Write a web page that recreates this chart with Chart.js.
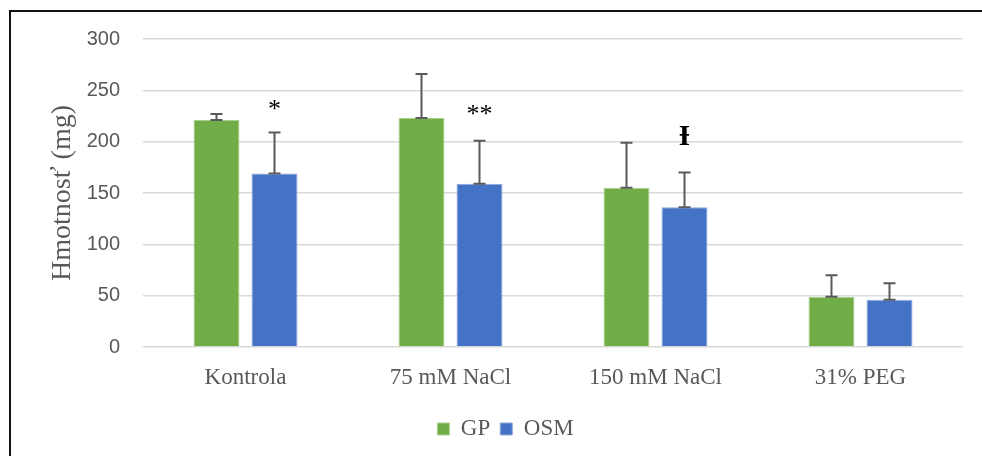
<!DOCTYPE html>
<html>
<head>
<meta charset="utf-8">
<script src="https://cdn.jsdelivr.net/npm/chart.js@4/dist/chart.umd.min.js"></script>
<style>
  html, body { margin: 0; padding: 0; background: #fff; }
  #frame { position: absolute; left: 9px; top: 10px; width: 980px; height: 450px;
           border-left: 2px solid #111; border-top: 2px solid #111; }
  #c { position: absolute; left: 0; top: 0; }
</style>
</head>
<body>
<div id="frame"></div>
<canvas id="c" width="982" height="456"></canvas>
<script>
const categories = ['Kontrola', '75 mM NaCl', '150 mM NaCl', '31% PEG'];
const seriesNames = ['GP', 'OSM'];
const gpValues = [221, 223, 155, 49];
const gpErrors = [6, 43, 44, 21];
const osmValues = [169, 159, 136, 46];
const osmErrors = [40, 42, 34, 16];
const marks = ['*', '**', 'Ɨ', ''];
const markValues = [236, 231, 205, null];
const yTicks = [0, 50, 100, 150, 200, 250, 300];

const errorBars = {
  id: 'errorBars',
  afterDatasetsDraw(chart) {
    const ctx = chart.ctx;
    const y = chart.scales.y;
    const errs = [gpErrors, osmErrors];
    ctx.save();
    ctx.strokeStyle = '#5a5a5a';
    ctx.lineWidth = 2;
    chart.data.datasets.forEach((ds, di) => {
      const meta = chart.getDatasetMeta(di);
      meta.data.forEach((bar, i) => {
        const v = ds.data[i];
        const yb = y.getPixelForValue(v);
        const yt = y.getPixelForValue(v + errs[di][i]);
        const x = bar.x;
        ctx.beginPath();
        ctx.moveTo(x, yb); ctx.lineTo(x, yt);
        ctx.moveTo(x - 6, yt); ctx.lineTo(x + 6, yt);
        ctx.moveTo(x - 6, yb); ctx.lineTo(x + 6, yb);
        ctx.stroke();
      });
    });
    // significance marks over OSM bars
    const meta = chart.getDatasetMeta(1);
    ctx.fillStyle = '#000';
    ctx.textAlign = 'center';
    ctx.textBaseline = 'middle';
    marks.forEach((m, i) => {
      if (!m) return;
      const x = meta.data[i].x;
      const py = y.getPixelForValue(markValues[i]);
      if (m === 'Ɨ') {
        ctx.font = 'bold 29px "Liberation Serif", "DejaVu Serif", serif';
      } else {
        ctx.font = '26px "Liberation Serif", serif';
      }
      ctx.fillText(m, x, py + (m === 'Ɨ' ? 1 : 5));
    });
    ctx.restore();
  }
};

new Chart(document.getElementById('c'), {
  type: 'bar',
  data: {
    labels: categories,
    datasets: [
      { label: seriesNames[0], data: gpValues, backgroundColor: '#70AD47', borderColor: '#A9D18E', borderWidth: 1,
        categoryPercentage: 0.566, barPercentage: 0.793 },
      { label: seriesNames[1], data: osmValues, backgroundColor: '#4472C4', borderColor: '#8FAADC', borderWidth: 1,
        categoryPercentage: 0.566, barPercentage: 0.793 }
    ]
  },
  options: {
    responsive: false,
    animation: false,
    layout: { padding: { left: 48, top: 39, right: 19, bottom: 5.5 } },
    plugins: {
      tooltip: { enabled: false },
      legend: {
        position: 'bottom',
        labels: {
          boxWidth: 12, boxHeight: 12, padding: 10, color: '#595959',
          font: { family: '"Liberation Serif", "Times New Roman", serif', size: 23 }
        }
      }
    },
    scales: {
      x: {
        grid: { display: false, drawTicks: false },
        border: { display: false },
        ticks: { color: '#595959', padding: 17,
                 font: { family: '"Liberation Serif", "Times New Roman", serif', size: 23 } },
        afterFit(s) { s.height = 60.5; }
      },
      y: {
        min: 0, max: 300,
        afterBuildTicks(s) { s.ticks = yTicks.map(v => ({ value: v })); },
        grid: { color: '#d9d9d9', lineWidth: 1.5, drawTicks: false },
        border: { display: false },
        ticks: { color: '#595959', padding: 23,
                 font: { family: '"Liberation Sans", Arial, sans-serif', size: 20 } },
        title: {
          display: true, text: 'Hmotnosť (mg)', color: '#595959',
          padding: { top: 1, bottom: 0 },
          font: { family: '"Liberation Serif", "Times New Roman", serif', size: 28, lineHeight: 1.0 }
        },
        afterFit(s) { s.width = 95; }
      }
    }
  },
  plugins: [errorBars]
});
</script>
</body>
</html>
